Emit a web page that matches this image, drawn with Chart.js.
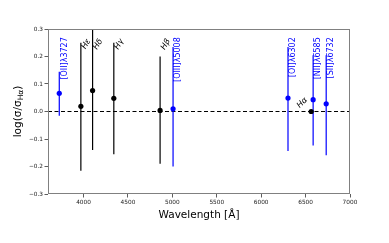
<!DOCTYPE html>
<html>
<head>
<meta charset="utf-8">
<script src="https://cdn.jsdelivr.net/npm/chart.js@4.4.1/dist/chart.umd.min.js"></script>
<style>
html,body{margin:0;padding:0;background:#fff;}
canvas{display:block;}
</style>
</head>
<body>
<canvas id="c" width="389" height="243"></canvas>
<script>
// ---- data ----
const lineNames   = ['[OII]λ3727','Hε','Hδ','Hγ','Hβ','[OIII]λ5008','[OI]λ6302','Hα','[NII]λ6585','[SII]λ6732'];
const lineKinds   = ['forbidden','balmer','balmer','balmer','balmer','forbidden','forbidden','halpha','forbidden','forbidden'];
const wavelengths = [3727, 3970, 4102, 4341, 4862, 5008, 6302, 6563, 6585, 6732];
const logRatio    = [0.066, 0.019, 0.076, 0.048, 0.004, 0.010, 0.049, 0.000, 0.043, 0.028];
const errLow      = [-0.015, -0.215, -0.140, -0.155, -0.190, -0.200, -0.144, 0.000, -0.124, -0.159];
const errHigh     = [0.145, 0.250, 0.350, 0.250, 0.200, 0.235, 0.235, 0.000, 0.205, 0.205];
const xTicks = [4000, 4500, 5000, 5500, 6000, 6500, 7000];
const yTicks = [-0.3, -0.2, -0.1, 0.0, 0.1, 0.2, 0.3];
const xRange = [3600, 7000];
const yRange = [-0.3, 0.3];

const BLUE = '#0000ff', BLACK = '#000000';
const colorOf = k => (k === 'forbidden' ? BLUE : BLACK);

const datasets = [];
// points
datasets.push({
  type: 'scatter',
  data: wavelengths.map((w, i) => ({x: w, y: logRatio[i]})),
  backgroundColor: lineKinds.map(colorOf),
  borderWidth: 0,
  pointRadius: 2.6,
  order: 0
});
// error bars
wavelengths.forEach((w, i) => {
  if (errHigh[i] === errLow[i]) return;
  datasets.push({
    type: 'scatter',
    showLine: true,
    data: [{x: w, y: errLow[i]}, {x: w, y: errHigh[i]}],
    borderColor: colorOf(lineKinds[i]),
    borderWidth: 1.2,
    pointRadius: 0,
    order: 1
  });
});
// zero line
datasets.push({
  type: 'scatter',
  showLine: true,
  data: [{x: xRange[0], y: 0}, {x: xRange[1], y: 0}],
  borderColor: BLACK,
  borderWidth: 1,
  borderDash: [4, 2.5],
  pointRadius: 0,
  order: 2
});

const framePlugin = {
  id: 'frame',
  afterDatasetsDraw(chart) {
    const {ctx, chartArea: a} = chart;
    ctx.save();
    ctx.strokeStyle = '#808080';
    ctx.lineWidth = 1;
    ctx.strokeRect(Math.round(a.left) + 0.5, Math.round(a.top) + 0.5,
                   Math.round(a.right - a.left) - 1, Math.round(a.bottom - a.top) - 1);
    ctx.restore();
  }
};

const labelPlugin = {
  id: 'lineLabels',
  afterDatasetsDraw(chart) {
    const {ctx} = chart;
    const xs = chart.scales.x, ys = chart.scales.y;
    ctx.save();
    lineKinds.forEach((k, i) => {
      const xp = xs.getPixelForValue(wavelengths[i]);
      ctx.fillStyle = colorOf(k);
      if (k === 'forbidden') {
        ctx.font = '8px "DejaVu Sans"';
        ctx.save();
        ctx.translate(xp + 1.2, ys.getPixelForValue(0.27));
        ctx.rotate(-Math.PI / 2);
        ctx.textAlign = 'right';
        ctx.textBaseline = 'top';
        ctx.fillText(lineNames[i], 0, 0);
        ctx.restore();
      } else if (k === 'balmer') {
        ctx.font = 'italic 8px "DejaVu Sans"';
        const w = ctx.measureText(lineNames[i]).width, h = 6;
        const X = xp + 1, Y = ys.getPixelForValue(0.265);
        ctx.save();
        ctx.translate(X + 0.866 * h, Y + 0.866 * w + 0.5 * h);
        ctx.rotate(-Math.PI / 3);
        ctx.textAlign = 'left';
        ctx.textBaseline = 'bottom';
        ctx.fillText(lineNames[i], 0, 0);
        ctx.restore();
      } else {
        ctx.font = 'italic 8px "DejaVu Sans"';
        const w = ctx.measureText(lineNames[i]).width;
        const X = xp - 2, Y = ys.getPixelForValue(logRatio[i]) - 2;
        ctx.save();
        ctx.translate(X - 0.707 * w, Y);
        ctx.rotate(-Math.PI / 4);
        ctx.textAlign = 'left';
        ctx.textBaseline = 'bottom';
        ctx.fillText(lineNames[i], 0, 0);
        ctx.restore();
      }
    });
    ctx.restore();
  }
};

const yTitlePlugin = {
  id: 'yTitle',
  afterDraw(chart) {
    const {ctx, chartArea: a} = chart;
    const main = 'log(σ/σ', sub = 'Hα', close = ')';
    ctx.save();
    ctx.fillStyle = '#000';
    ctx.font = '10.5px "DejaVu Sans"';
    const w1 = ctx.measureText(main).width, w3 = ctx.measureText(close).width;
    ctx.font = '7.5px "DejaVu Sans"';
    const w2 = ctx.measureText(sub).width;
    const total = w1 + w2 + w3;
    ctx.translate(20.5, (a.top + a.bottom) / 2);
    ctx.rotate(-Math.PI / 2);
    ctx.textBaseline = 'alphabetic';
    ctx.textAlign = 'left';
    let x = -total / 2;
    ctx.font = '10.5px "DejaVu Sans"';
    ctx.fillText(main, x, 0); x += w1;
    ctx.font = '7.5px "DejaVu Sans"';
    ctx.fillText(sub, x, 2.2); x += w2;
    ctx.font = '10.5px "DejaVu Sans"';
    ctx.fillText(close, x, 0);
    ctx.restore();
  }
};

const fmtY = v => {
  const s = Math.abs(v).toFixed(1);
  return (v < -1e-9 ? '\u2212' : '') + s;
};

new Chart(document.getElementById('c'), {
  type: 'scatter',
  data: {datasets},
  options: {
    responsive: false,
    animation: false,
    devicePixelRatio: 1,
    layout: {padding: {top: 29, right: 39, left: 0, bottom: 21}},
    plugins: {legend: {display: false}, tooltip: {enabled: false}},
    scales: {
      x: {
        type: 'linear',
        min: xRange[0], max: xRange[1],
        afterBuildTicks: s => { s.ticks = xTicks.map(v => ({value: v})); },
        afterFit: s => { s.height = 28; },
        ticks: {font: {family: 'DejaVu Sans', size: 5.8}, color: '#222', padding: 1.5,
                maxRotation: 0, autoSkip: false, callback: v => String(v)},
        grid: {drawOnChartArea: false, drawTicks: true, tickLength: 3.5, color: '#333', tickWidth: 0.8},
        border: {display: false},
        title: {display: true, text: 'Wavelength [Å]', color: '#000',
                font: {family: 'DejaVu Sans', size: 10.5}, padding: {top: 3, bottom: 0}}
      },
      y: {
        type: 'linear',
        min: yRange[0], max: yRange[1],
        afterBuildTicks: s => { s.ticks = yTicks.map(v => ({value: v})); },
        afterFit: s => { s.width = 48; },
        ticks: {font: {family: 'DejaVu Sans', size: 5.8}, color: '#222', padding: 1.5,
                autoSkip: false, callback: v => fmtY(v)},
        grid: {drawOnChartArea: false, drawTicks: true, tickLength: 3.5, color: '#333', tickWidth: 0.8},
        border: {display: false}
      }
    }
  },
  plugins: [framePlugin, labelPlugin, yTitlePlugin]
});
</script>
</body>
</html>
